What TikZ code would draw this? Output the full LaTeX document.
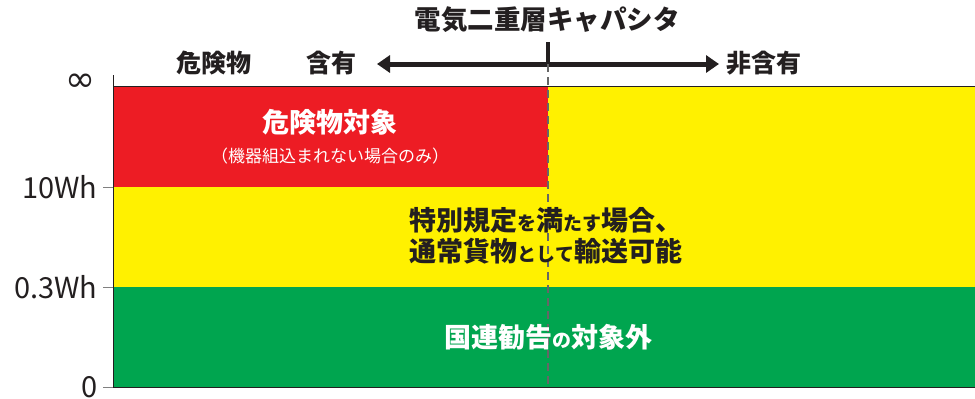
\documentclass[tikz,border=0pt]{standalone}
\usepackage{fontspec}
\setmainfont{Noto Sans CJK JP}
\newfontfamily\symfont{DejaVu Sans}
\usepackage{tikz}
\usetikzlibrary{arrows.meta}
\usepackage{xcolor}
\definecolor{zonered}{HTML}{ED1C24}
\definecolor{zoneyellow}{HTML}{FFF100}
\definecolor{zonegreen}{HTML}{00A54F}
\definecolor{inkgray}{HTML}{231F20}
\newcommand{\kn}[1]{{\fontsize{19}{19}\selectfont #1}}

\begin{document}
\begin{tikzpicture}[x=1pt,y=-1pt,
	big/.style={font=\fontsize{27}{31}\selectfont\bfseries},
	lbl/.style={font=\fontsize{25}{25}\selectfont\bfseries,text=inkgray},
	lvl/.style={anchor=east,font=\fontsize{29}{29}\selectfont,text=inkgray}]
\useasboundingbox (0,0) rectangle (975,399);
% zones
	\fill[zonered]    (113,86) rectangle (548,187);
	\fill[zoneyellow] (548,86) rectangle (975,187);
	\fill[zoneyellow] (113,187) rectangle (975,287);
	\fill[zonegreen]  (113,287) rectangle (975,387);
	\draw[inkgray,line width=0.8pt] (113,86) -- (975,86);
	\draw[inkgray,line width=0.8pt] (113,75) -- (113,387) -- (975,387);
% axe
	\foreach \y/\t in {187/10Wh, 287/0.3Wh, 387/0}{
		\draw[gray,line width=1pt] (103,\y) -- (113,\y);
		\node[lvl] (lv\y) at (101,\y) {\t};
	}
	\node[lvl,font=\fontsize{36}{36}\selectfont\symfont] (inf) at (99,83) {∞};
% condensateur
	\node[font=\fontsize{26.5}{26.5}\selectfont\bfseries,text=inkgray] (titre) at (547,20) {電気二重層キャパシタ};
	\coordinate (gauche) at (377,64);
	\coordinate (droite) at (719,64);
	\coordinate (mid) at (548,64);
	\coordinate (tick) at (548,42);
	\coordinate (bas) at (548,387);
	\node[lbl] (danger) at (214,63) {危険物};
	\node[lbl] (avec) at (331,63) {含有};
	\node[lbl] (sans) at (764,63) {非含有};
	\draw[inkgray,line width=5pt,{Triangle[length=13pt,width=17pt]}-{Triangle[length=13pt,width=17pt]}] (gauche) -- (droite);
	\draw[inkgray,line width=4pt] (tick) -- (mid);
	\draw[gray!80!black,line width=1.2pt,dash pattern=on 8pt off 5pt] (mid) -- (bas);
% textes
	\node[big,text=white] (rouge) at (330,122) {危険物対象};
	\node[font=\fontsize{17}{17}\selectfont,text=white] (note) at (330,156) {（機器組込まれない場合のみ）};
	\node[big,text=inkgray,align=center] (jaune) at (546,236)
		{特別規定\kn{を}満\kn{たす}場合、\\通常貨物\kn{として}輸送可能};
	\node[big,text=white] (vert) at (548,337) {国連勧告\kn{の}対象外};
\end{tikzpicture}
\end{document}
